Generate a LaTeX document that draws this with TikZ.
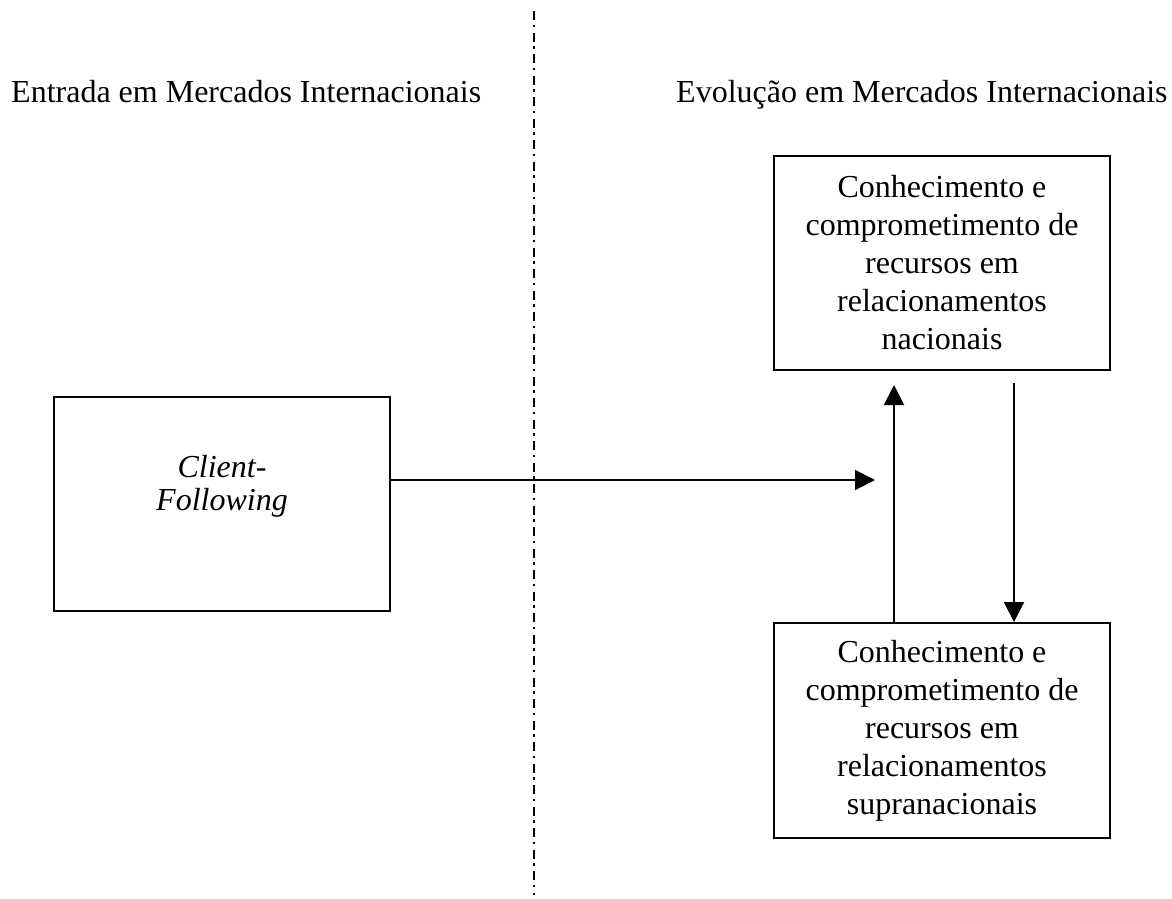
\documentclass[tikz,border=0pt]{standalone}
\usepackage{fontspec}
\setmainfont{Liberation Serif}
\usetikzlibrary{arrows.meta}
\begin{document}
\begin{tikzpicture}[x=1pt,y=-1pt,
  box/.style={draw, line width=2pt, minimum width=336pt, minimum height=214pt, inner sep=0pt, align=center, font=\fontsize{32}{38}\selectfont},
  hdr/.style={anchor=base west, inner sep=0pt, font=\fontsize{32}{38}\selectfont},
  arr/.style={line width=2pt, -{Triangle[length=20pt,width=20pt]}},
  divider/.style={line width=2pt, dash pattern=on 9pt off 4.5pt on 2.5pt off 5.5pt}]
\useasboundingbox (0,0) rectangle (1172,898);
% headers
\node[hdr] (hl) at (11,102) {Entrada em Mercados Internacionais};
\node[hdr] (hr) at (676,102) {Evolução em Mercados Internacionais};
% divider
\coordinate (dv1) at (534,11);
\coordinate (dv2) at (534,895);
\draw[divider] (dv1) -- (dv2);
% boxes
\node[box] (cf) at (222,504) {};
\node[inner sep=0pt, align=center, font=\fontsize{32}{33}\selectfont\itshape] (cft) at (222,486) {Client-\\Following};
\node[box] (top) at (942,263) {Conhecimento e\\comprometimento de\\recursos em\\relacionamentos\\nacionais};
\node[box, minimum height=215pt] (bot) at (942,730.5) {Conhecimento e\\comprometimento de\\recursos em\\relacionamentos\\supranacionais};
% arrows
\coordinate (h) at (875,480);
\draw[arr] (cf.east |- h) -- (h);
\coordinate (u) at (894,385);
\draw[arr] (bot.north -| u) -- (u);
\coordinate (d) at (1014,383);
\draw[arr] (d) -- (bot.north -| d);
\end{tikzpicture}
\end{document}
